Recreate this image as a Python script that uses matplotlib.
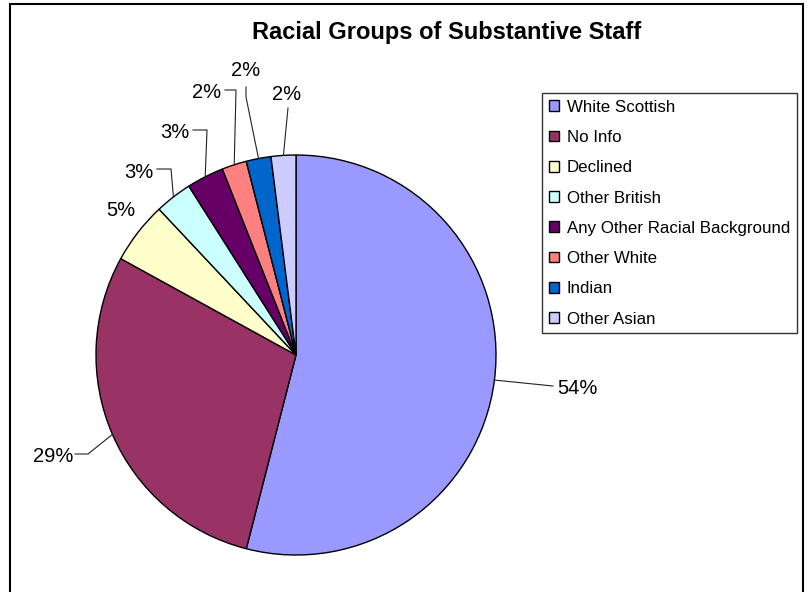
import numpy as np
import matplotlib
matplotlib.use("Agg")
import matplotlib.pyplot as plt
from matplotlib.patches import Rectangle

plt.rcParams['font.family'] = ['Liberation Sans', 'DejaVu Sans']

# ---- data ----
categories = ["White Scottish", "No Info", "Declined", "Other British",
              "Any Other Racial Background", "Other White", "Indian", "Other Asian"]
shares = [54, 29, 5, 3, 3, 2, 2, 2]
colors = ["#9999FF", "#993366", "#FFFFCC", "#CCFFFF",
          "#660066", "#FF8080", "#0066CC", "#CCCCFF"]
title = "Racial Groups of Substantive Staff"

# ---- canvas in pixel units (y measured downward from the top) ----
W, H = 808, 592
fig = plt.figure(figsize=(W / 100, H / 100), dpi=100)
ax = fig.add_axes([0, 0, 1, 1])


def Y(y):
    return H - y


center = (296, Y(355))
radius = 200
wedges, _ = ax.pie(shares, colors=colors, startangle=90, counterclock=False,
                   center=center, radius=radius,
                   wedgeprops=dict(edgecolor="black", linewidth=1.0))
ax.set_xlim(0, W)
ax.set_ylim(0, H)
ax.set_aspect("equal")
ax.axis("off")

# outer chart border
ax.add_patch(Rectangle((10, Y(600)), 793, 596, fill=False,
                       edgecolor="black", linewidth=1.5, zorder=0))

# title
ax.text(447, Y(32), title, ha="center", va="center",
        fontsize=17, fontweight="bold")

# percentage labels with leader lines: (text position, alignment, bends)
label_layout = [
    ((557, 386), "left", [(553, 386)]),
    ((73, 455), "right", [(88, 454), (75, 454)]),
    ((121, 209), "center", []),
    ((139, 170), "center", [(171, 169), (157, 169)]),
    ((175, 130), "center", [(207, 130), (193, 130)]),
    ((207, 90), "center", [(236, 90), (225, 90)]),
    ((246, 69), "center", [(246, 97), (246, 87)]),
    ((287, 92), "center", [(288, 108)]),
]

for w, v, (txy, ha, bends) in zip(wedges, shares, label_layout):
    mid = np.deg2rad((w.theta1 + w.theta2) / 2)
    ex = center[0] + radius * np.cos(mid)
    ey = center[1] + radius * np.sin(mid)
    if bends:
        xs = [ex] + [b[0] for b in bends]
        ys = [ey] + [Y(b[1]) for b in bends]
        ax.plot(xs, ys, color="#222222", linewidth=0.8, zorder=3)
    ax.text(txy[0], Y(txy[1]), f"{v}%", ha=ha, va="center_baseline",
            fontsize=14.5, color="black")

# legend
leg = ax.legend(wedges, categories, loc="upper left",
                bbox_to_anchor=(542, Y(93)), bbox_transform=ax.transData,
                fontsize=12.2, frameon=True, fancybox=False,
                edgecolor="black", borderaxespad=0, borderpad=0.4,
                labelspacing=0.9, handlelength=0.6, handleheight=0.6,
                handletextpad=0.45)
leg.get_frame().set_linewidth(1.0)
for h in leg.legend_handles:
    h.set_linewidth(1.0)
    h.set_edgecolor("black")

fig.savefig("out.png", dpi=100)
